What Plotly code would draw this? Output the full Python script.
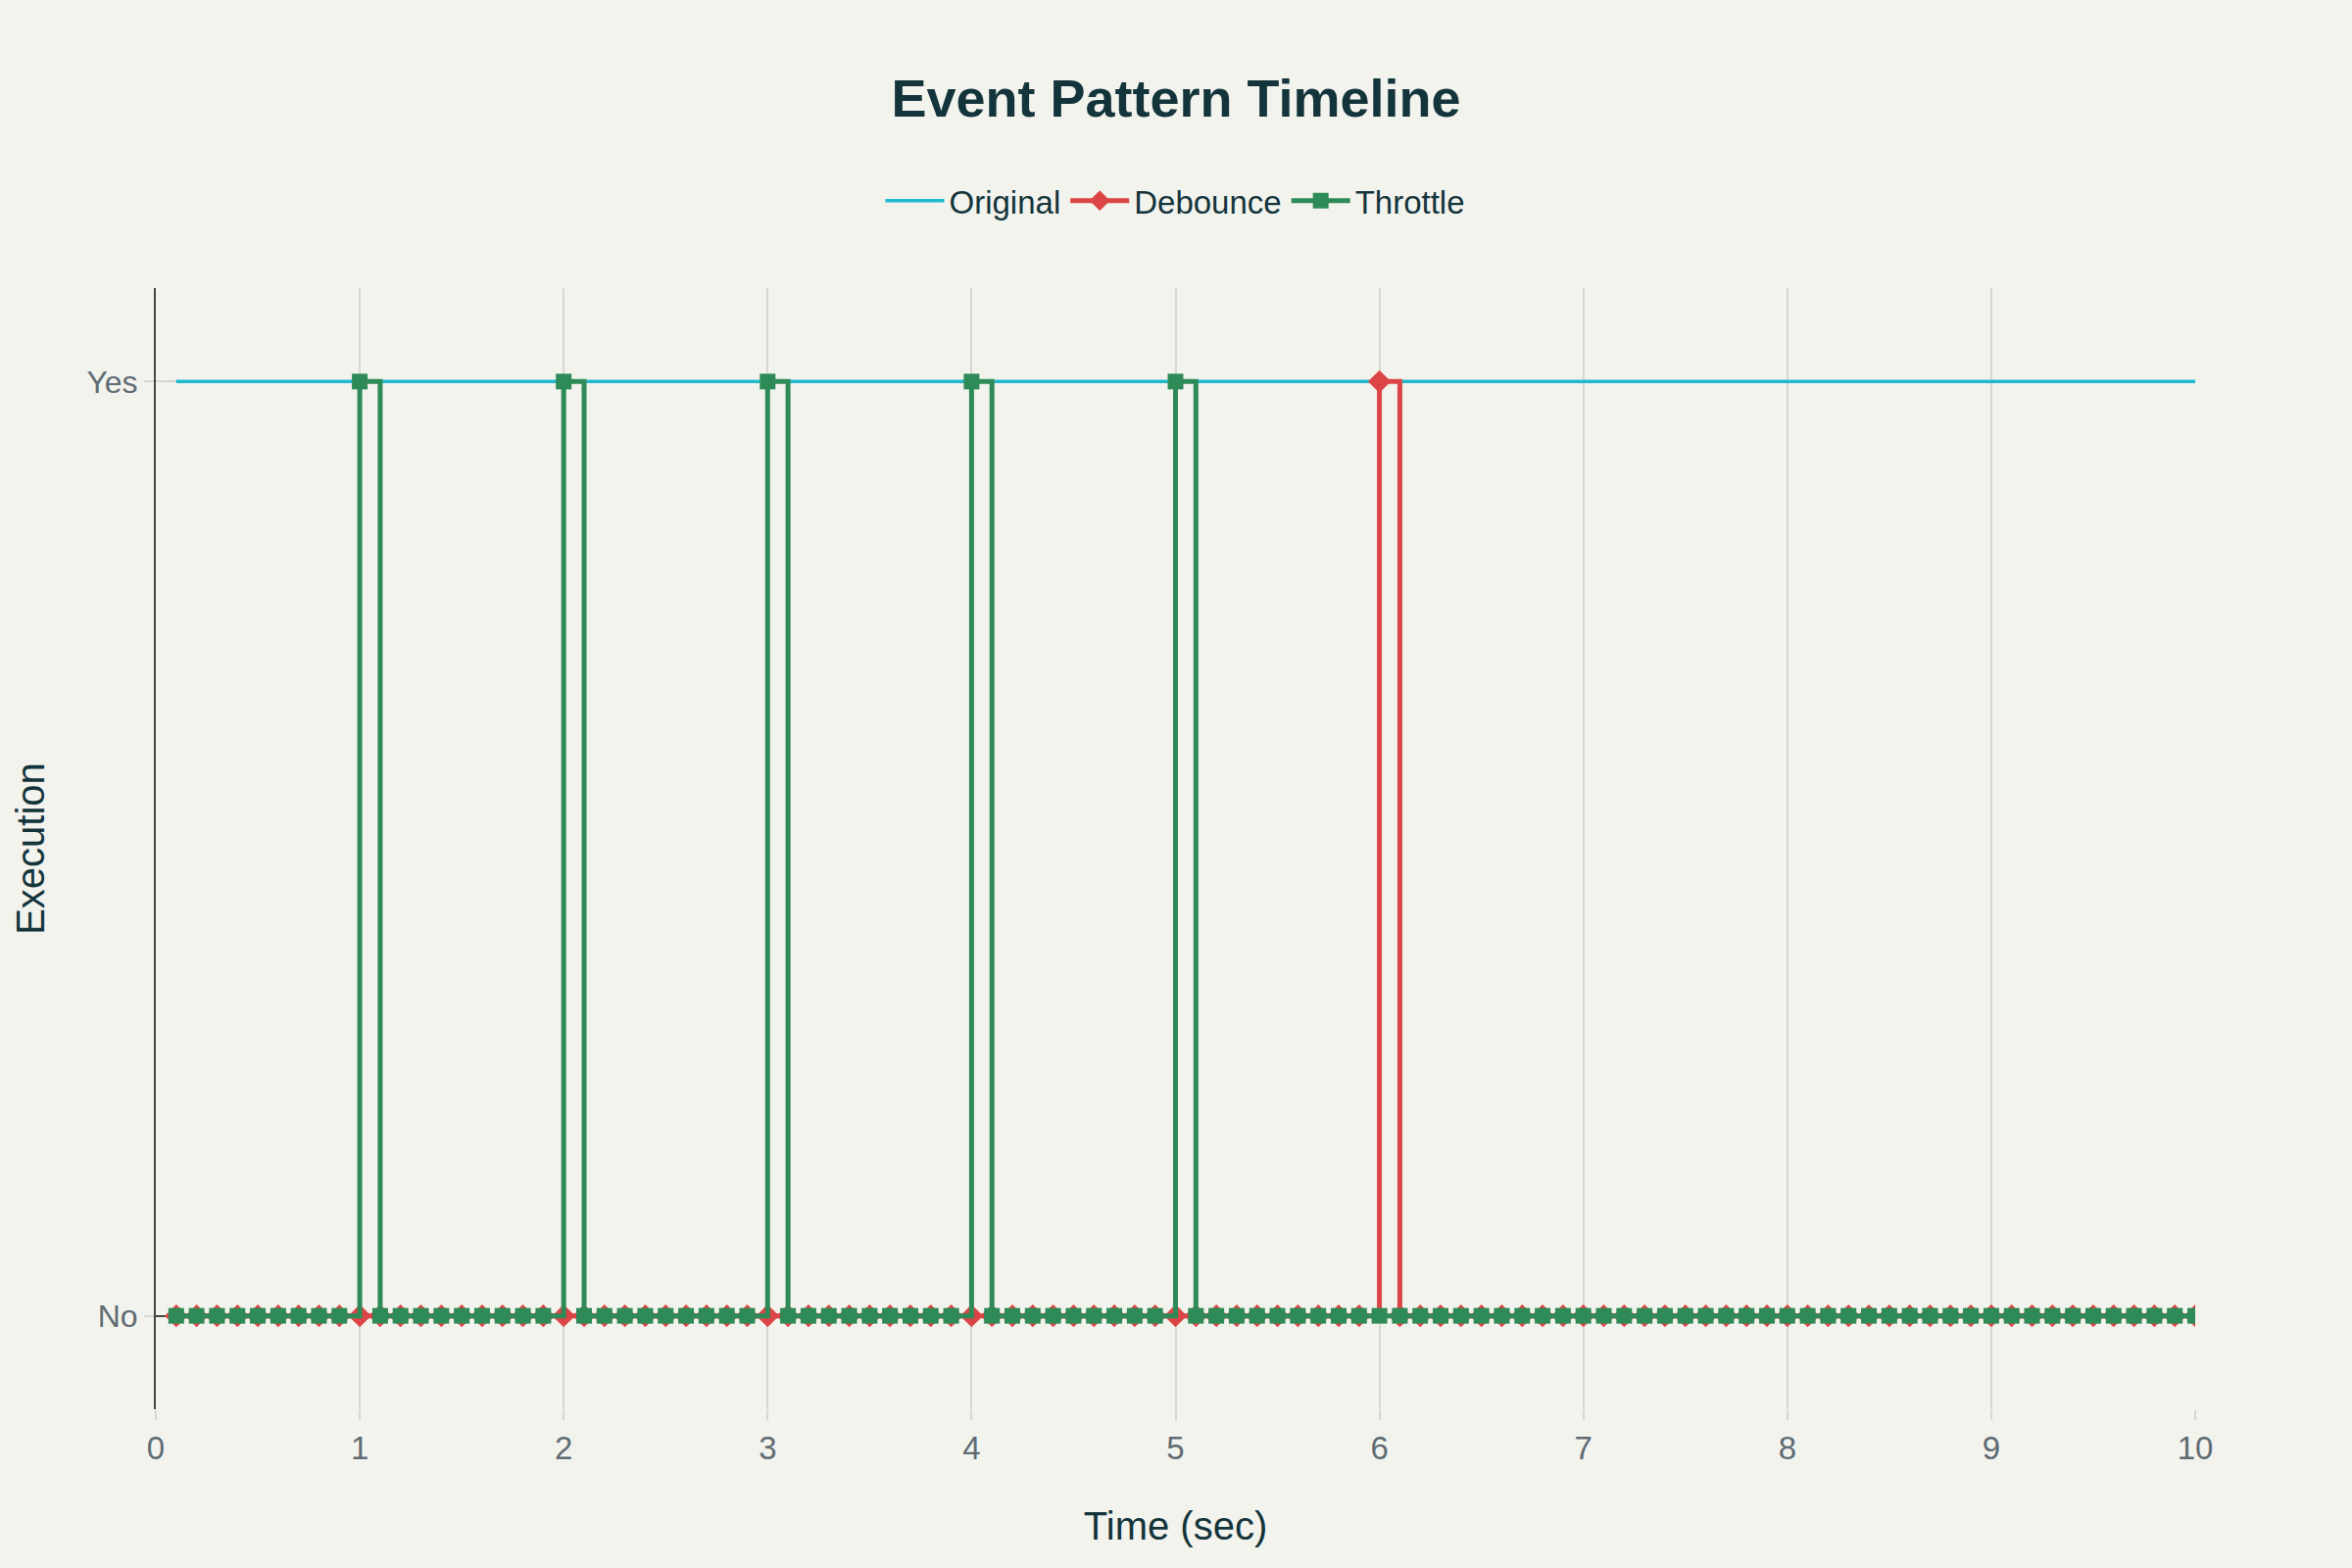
import plotly.graph_objects as go

time_sec = [
    0.1, 0.2, 0.3, 0.4, 0.5, 0.6, 0.7, 0.8, 0.9, 1.0,
    1.1, 1.2, 1.3, 1.4, 1.5, 1.6, 1.7, 1.8, 1.9, 2.0,
    2.1, 2.2, 2.3, 2.4, 2.5, 2.6, 2.7, 2.8, 2.9, 3.0,
    3.1, 3.2, 3.3, 3.4, 3.5, 3.6, 3.7, 3.8, 3.9, 4.0,
    4.1, 4.2, 4.3, 4.4, 4.5, 4.6, 4.7, 4.8, 4.9, 5.0,
    5.1, 5.2, 5.3, 5.4, 5.5, 5.6, 5.7, 5.8, 5.9, 6.0,
    6.1, 6.2, 6.3, 6.4, 6.5, 6.6, 6.7, 6.8, 6.9, 7.0,
    7.1, 7.2, 7.3, 7.4, 7.5, 7.6, 7.7, 7.8, 7.9, 8.0,
    8.1, 8.2, 8.3, 8.4, 8.5, 8.6, 8.7, 8.8, 8.9, 9.0,
    9.1, 9.2, 9.3, 9.4, 9.5, 9.6, 9.7, 9.8, 9.9, 10.0,
]

original = [
    1, 1, 1, 1, 1, 1, 1, 1, 1, 1,
    1, 1, 1, 1, 1, 1, 1, 1, 1, 1,
    1, 1, 1, 1, 1, 1, 1, 1, 1, 1,
    1, 1, 1, 1, 1, 1, 1, 1, 1, 1,
    1, 1, 1, 1, 1, 1, 1, 1, 1, 1,
    1, 1, 1, 1, 1, 1, 1, 1, 1, 1,
    1, 1, 1, 1, 1, 1, 1, 1, 1, 1,
    1, 1, 1, 1, 1, 1, 1, 1, 1, 1,
    1, 1, 1, 1, 1, 1, 1, 1, 1, 1,
    1, 1, 1, 1, 1, 1, 1, 1, 1, 1,
]

debounce = [
    0, 0, 0, 0, 0, 0, 0, 0, 0, 0,
    0, 0, 0, 0, 0, 0, 0, 0, 0, 0,
    0, 0, 0, 0, 0, 0, 0, 0, 0, 0,
    0, 0, 0, 0, 0, 0, 0, 0, 0, 0,
    0, 0, 0, 0, 0, 0, 0, 0, 0, 0,
    0, 0, 0, 0, 0, 0, 0, 0, 0, 1,
    0, 0, 0, 0, 0, 0, 0, 0, 0, 0,
    0, 0, 0, 0, 0, 0, 0, 0, 0, 0,
    0, 0, 0, 0, 0, 0, 0, 0, 0, 0,
    0, 0, 0, 0, 0, 0, 0, 0, 0, 0,
]

throttle = [
    0, 0, 0, 0, 0, 0, 0, 0, 0, 1,
    0, 0, 0, 0, 0, 0, 0, 0, 0, 1,
    0, 0, 0, 0, 0, 0, 0, 0, 0, 1,
    0, 0, 0, 0, 0, 0, 0, 0, 0, 1,
    0, 0, 0, 0, 0, 0, 0, 0, 0, 1,
    0, 0, 0, 0, 0, 0, 0, 0, 0, 0,
    0, 0, 0, 0, 0, 0, 0, 0, 0, 0,
    0, 0, 0, 0, 0, 0, 0, 0, 0, 0,
    0, 0, 0, 0, 0, 0, 0, 0, 0, 0,
    0, 0, 0, 0, 0, 0, 0, 0, 0, 0,
]

y_tick_vals = [0, 1]
y_tick_text = ["No", "Yes"]
x_tick_vals = [0, 1, 2, 3, 4, 5, 6, 7, 8, 9, 10]

NARROW = "Liberation Sans Narrow, Liberation Sans, Arial, sans-serif"
SANS = "Liberation Sans, Arial, sans-serif"
DARK = "#13343B"
TICK = "#5F6B73"
GRID = "#D6D6D2"

fig = go.Figure()
fig.add_trace(go.Scatter(
    x=time_sec, y=original, name="Original", mode="lines",
    line=dict(color="#1FB8CD", width=3.5, shape="hv"),
))
fig.add_trace(go.Scatter(
    x=time_sec, y=debounce, name="Debounce", mode="lines+markers",
    line=dict(color="#DB4545", width=5, shape="hv"),
    marker=dict(symbol="diamond", size=18, color="#DB4545"),
))
fig.add_trace(go.Scatter(
    x=time_sec, y=throttle, name="Throttle", mode="lines+markers",
    line=dict(color="#2E8B57", width=5, shape="hv"),
    marker=dict(symbol="square", size=16, color="#2E8B57"),
))

fig.update_layout(
    width=2400, height=1600,
    paper_bgcolor="#F3F3EE", plot_bgcolor="#F3F3EE",
    margin=dict(l=159, r=160, t=294, b=162),
    title=dict(
        text="<b>Event Pattern Timeline</b>",
        x=0.5, xanchor="center", y=0.9375, yanchor="middle",
        font=dict(family=NARROW, size=54, color=DARK),
    ),
    legend=dict(
        orientation="h", x=0.5, xanchor="center", y=1.078, yanchor="middle",
        font=dict(family=NARROW, size=33, color=DARK),
        bgcolor="rgba(0,0,0,0)", itemwidth=60,
    ),
    xaxis=dict(
        range=[0, 10], tickvals=x_tick_vals,
        showgrid=True, gridcolor=GRID, gridwidth=1.5,
        zeroline=False, showline=False,
        ticks="outside", ticklen=10, tickcolor=GRID, tickwidth=1.5,
        tickfont=dict(family=SANS, size=33, color=TICK),
        title=dict(text="Time (sec)", standoff=48,
                   font=dict(family=SANS, size=40, color=DARK)),
    ),
    yaxis=dict(
        range=[-0.1, 1.1], tickvals=y_tick_vals, ticktext=y_tick_text,
        showgrid=True, gridcolor=GRID, gridwidth=1.5,
        zeroline=True, zerolinecolor="#444444", zerolinewidth=2,
        showline=True, linecolor="#444444", linewidth=2,
        ticks="outside", ticklen=10, tickcolor=GRID, tickwidth=1.5,
        tickfont=dict(family=SANS, size=32, color=TICK),
        title=dict(text="Execution", standoff=30,
                   font=dict(family=SANS, size=40, color=DARK)),
    ),
)

fig.write_html(
    "out.html",
    config={"displayModeBar": False},
    post_script="document.body.style.margin='0';document.body.style.overflow='hidden';",
)
